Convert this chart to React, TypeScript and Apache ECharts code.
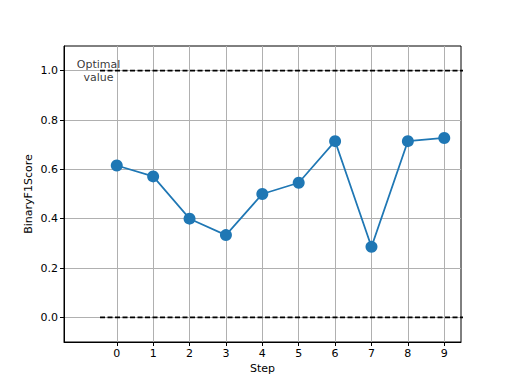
import React, { useEffect, useRef } from "react";
import * as echarts from "echarts";

const steps = [0, 1, 2, 3, 4, 5, 6, 7, 8, 9];
const f1Scores = [0.6154, 0.5714, 0.4, 0.3333, 0.5, 0.5455, 0.7143, 0.2857, 0.7143, 0.7273];
const xTicks = [0, 1, 2, 3, 4, 5, 6, 7, 8, 9];
const yTicks = [0, 0.2, 0.4, 0.6, 0.8, 1.0];
const optimalValue = 1.0;
const baselineValue = 0.0;
const refLineX = [-0.46, 9.6];
const annotation = { x: -0.5, y: 1.0, text: "Optimal\nvalue" };

const FONT = "DejaVu Sans";

export default function App() {
  const ref = useRef<HTMLDivElement>(null);
  useEffect(() => {
    if (!ref.current) return;
    const chart = echarts.init(ref.current, null, { renderer: "svg" });
    chart.setOption({
      animation: false,
      backgroundColor: "#ffffff",
      textStyle: { fontFamily: FONT },
      grid: {
        left: 64,
        right: 51,
        top: 46,
        bottom: 42,
        show: true,
        borderColor: "#000000",
        borderWidth: 1,
        backgroundColor: "transparent",
      },
      xAxis: {
        type: "value",
        min: -1.45,
        max: 9.46,
        name: "Step",
        nameLocation: "middle",
        nameGap: 21,
        nameMoveOverlap: false,
        nameTextStyle: { color: "#000", fontSize: 11, fontFamily: FONT },
        axisLine: { show: true, onZero: false, lineStyle: { color: "#000", width: 1 } },
        axisTick: { show: true, customValues: xTicks, length: 4, inside: false, lineStyle: { color: "#000" } },
        axisLabel: {
          customValues: xTicks,
          color: "#000",
          fontSize: 11,
          fontFamily: FONT,
          margin: 6,
          formatter: (v: number) => String(v),
        },
        splitLine: { show: true, lineStyle: { color: "#b0b0b0", width: 1 } },
      },
      yAxis: {
        type: "value",
        min: -0.1,
        max: 1.1,
        name: "BinaryF1Score",
        nameLocation: "middle",
        nameGap: 30,
        nameMoveOverlap: false,
        nameTextStyle: { color: "#000", fontSize: 11, fontFamily: FONT },
        axisLine: { show: true, onZero: false, lineStyle: { color: "#000", width: 1 } },
        axisTick: { show: true, customValues: yTicks, length: 4, inside: false, lineStyle: { color: "#000" } },
        axisLabel: {
          customValues: yTicks,
          color: "#000",
          fontSize: 11,
          fontFamily: FONT,
          margin: 6,
          formatter: (v: number) => v.toFixed(1),
        },
        splitLine: { show: true, lineStyle: { color: "#b0b0b0", width: 1 } },
      },
      series: [
        {
          type: "line",
          data: refLineX.map((x) => [x, optimalValue]),
          symbol: "none",
          lineStyle: { color: "#000", width: 1.6, type: [5, 2.5] },
          z: 3,
        },
        {
          type: "line",
          data: refLineX.map((x) => [x, baselineValue]),
          symbol: "none",
          lineStyle: { color: "#000", width: 1.6, type: [5, 2.5] },
          z: 3,
        },
        {
          type: "line",
          data: steps.map((s, i) => [s, f1Scores[i]]),
          symbol: "circle",
          symbolSize: 12,
          itemStyle: { color: "#1f77b4" },
          lineStyle: { color: "#1f77b4", width: 1.7 },
          z: 4,
        },
        {
          type: "scatter",
          data: [[annotation.x, annotation.y]],
          symbolSize: 0,
          z: 5,
          label: {
            show: true,
            position: "inside",
            formatter: annotation.text,
            color: "#000",
            fontSize: 11,
            fontFamily: FONT,
            align: "center",
            verticalAlign: "middle",
            lineHeight: 13,
          },
        },
      ],
    });
    return () => chart.dispose();
  }, []);
  return <div ref={ref} style={{ width: 512, height: 384, position: "absolute", left: 0, top: 0 }} />;
}
